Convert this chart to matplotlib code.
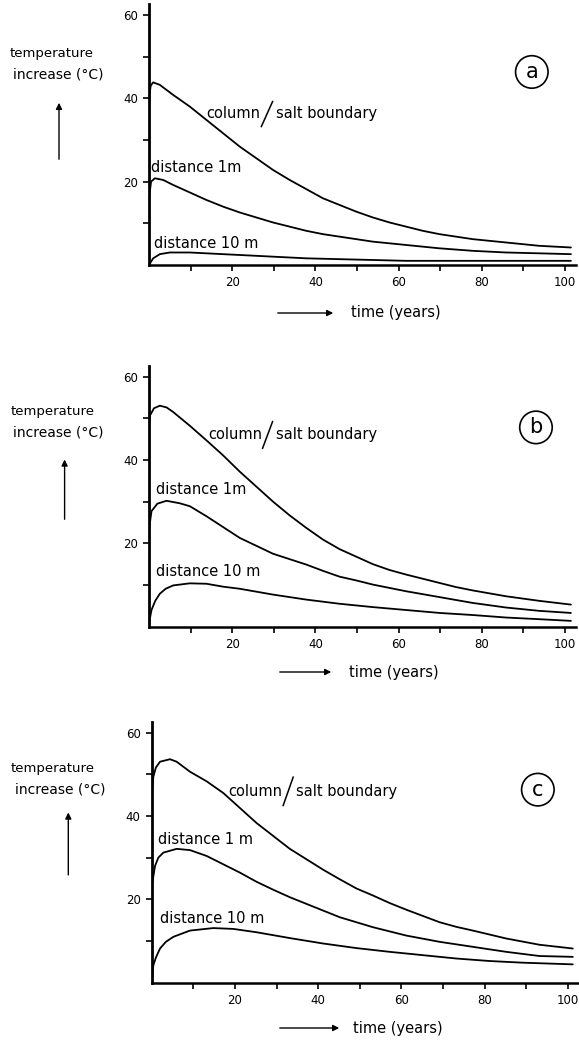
import matplotlib
matplotlib.use("Agg")
import matplotlib.pyplot as plt

# temperature increase (deg C) against time (years), three cases a/b/c
# each case: column/salt boundary, 1 m and 10 m distance

t_a_bnd = [0, 0.1, 0.4, 1.0, 2.6, 5.8, 9.8, 13.8, 17.8, 21.8, 25.8, 29.8, 33.8, 37.8, 41.8, 45.8, 49.8, 53.8, 57.8, 61.8, 65.8, 69.8, 73.8, 77.8, 85.8, 93.8, 101.4]
T_a_bnd = [0, 40.5, 43.0, 43.8, 43.2, 40.8, 38.0, 34.8, 31.6, 28.4, 25.6, 22.8, 20.4, 18.2, 16.0, 14.4, 12.8, 11.4, 10.2, 9.2, 8.2, 7.4, 6.8, 6.2, 5.4, 4.6, 4.2]
t_a_1m = [0, 0.05, 0.5, 1.4, 3.4, 5.8, 9.8, 13.8, 17.8, 21.8, 25.8, 29.8, 33.8, 37.8, 41.8, 45.8, 49.8, 53.8, 61.8, 69.8, 77.8, 85.8, 93.8, 101.4]
T_a_1m = [0, 16.4, 20.0, 20.8, 20.4, 19.2, 17.4, 15.6, 14.0, 12.6, 11.4, 10.2, 9.2, 8.2, 7.4, 6.8, 6.2, 5.6, 4.8, 4.0, 3.4, 3.0, 2.8, 2.6]
t_a_10m = [0, 1.0, 2.6, 5.0, 9.8, 17.8, 29.8, 37.8, 45.8, 61.8, 77.8, 101.4]
T_a_10m = [0, 1.6, 2.6, 3.0, 3.0, 2.6, 2.0, 1.6, 1.4, 1.0, 1.0, 1.0]

t_b_bnd = [0, 0.05, 0.2, 1.2, 2.6, 4.2, 5.8, 9.8, 13.8, 17.8, 21.8, 25.8, 29.8, 33.8, 37.8, 41.8, 45.8, 49.8, 53.8, 57.8, 61.8, 65.8, 69.8, 73.8, 77.8, 85.8, 93.8, 101.4]
T_b_bnd = [0, 48.2, 50.6, 52.4, 53.0, 52.6, 51.5, 48.2, 44.7, 41.1, 37.2, 33.6, 30.0, 26.7, 23.7, 20.9, 18.6, 16.8, 15.0, 13.6, 12.5, 11.5, 10.5, 9.5, 8.7, 7.3, 6.2, 5.3]
t_b_1m = [0, 0.05, 0.6, 2.0, 4.2, 7.4, 9.8, 13.8, 17.8, 21.8, 25.8, 29.8, 33.8, 37.8, 41.8, 45.8, 49.8, 53.8, 61.8, 69.8, 77.8, 85.8, 93.8, 101.4]
T_b_1m = [0, 23.7, 27.7, 29.5, 30.2, 29.6, 28.9, 26.5, 23.9, 21.3, 19.4, 17.5, 16.2, 14.9, 13.4, 12.0, 11.1, 10.1, 8.5, 7.1, 5.7, 4.6, 3.8, 3.3]
t_b_10m = [0, 0.6, 1.5, 2.6, 4.0, 5.8, 9.8, 13.8, 17.8, 21.8, 29.8, 37.8, 45.8, 53.8, 61.8, 69.8, 77.8, 85.8, 93.8, 101.4]
T_b_10m = [0.8, 4.0, 6.2, 7.9, 9.1, 9.9, 10.4, 10.3, 9.6, 9.1, 7.7, 6.5, 5.5, 4.7, 4.0, 3.3, 2.8, 2.2, 1.8, 1.4]

t_c_bnd = [0, 0.05, 0.4, 1.0, 2.0, 4.4, 6.0, 9.2, 13.2, 17.2, 21.2, 25.2, 29.2, 33.2, 37.2, 41.2, 45.2, 49.2, 53.2, 57.2, 61.2, 65.2, 69.2, 73.2, 77.2, 85.2, 93.2, 101.2]
T_c_bnd = [0, 45.5, 49.4, 51.6, 53.0, 53.6, 53.0, 50.6, 48.3, 45.5, 41.9, 38.3, 35.2, 32.1, 29.6, 27.1, 24.8, 22.6, 20.9, 19.1, 17.5, 16.0, 14.5, 13.4, 12.5, 10.6, 9.1, 8.2]
t_c_1m = [0, 0.05, 0.8, 1.6, 2.8, 6.0, 9.2, 13.2, 17.2, 21.2, 25.2, 29.2, 33.2, 37.2, 41.2, 45.2, 49.2, 53.2, 61.2, 69.2, 77.2, 85.2, 93.2, 101.2]
T_c_1m = [0, 23.3, 28.0, 30.0, 31.2, 32.1, 31.8, 30.4, 28.4, 26.4, 24.2, 22.3, 20.5, 18.9, 17.3, 15.7, 14.5, 13.3, 11.3, 9.8, 8.6, 7.4, 6.4, 6.2]
t_c_10m = [0, 0.4, 1.0, 2.0, 3.4, 5.2, 9.2, 14.8, 19.6, 25.2, 33.2, 41.2, 49.2, 57.2, 65.2, 73.2, 81.2, 89.2, 101.2]
T_c_10m = [0.2, 4.2, 6.0, 8.2, 9.8, 11.0, 12.5, 13.1, 12.9, 12.1, 10.7, 9.4, 8.3, 7.4, 6.6, 5.8, 5.2, 4.8, 4.4]

panel_names = ["a", "b", "c"]
x_ticks = [10, 20, 30, 40, 50, 60, 70, 80, 90, 100]
x_ticklabels = ["", "20", "", "40", "", "60", "", "80", "", "100"]
y_ticks = [10, 20, 30, 40, 50, 60]
y_ticklabels = ["", "20", "", "40", "", "60"]

plt.rcParams["font.family"] = "DejaVu Sans"

W, H = 579, 1040
fig = plt.figure(figsize=(W / 100, H / 100), dpi=100)

# axes origin in pixels (x, y from top)
origins = [(149, 265), (149, 626.7), (151.7, 982.7)]
ax_w, ax_h = 426.5, 260.6

curves = [
    [(t_a_bnd, T_a_bnd), (t_a_1m, T_a_1m), (t_a_10m, T_a_10m)],
    [(t_b_bnd, T_b_bnd), (t_b_1m, T_b_1m), (t_b_10m, T_b_10m)],
    [(t_c_bnd, T_c_bnd), (t_c_1m, T_c_1m), (t_c_10m, T_c_10m)],
]

# label placement per panel (data coords)
col_pos = [(13.8, 36.4), (14.2, 46.2), (18.4, 45.9)]
slash = [((27.0, 33.2), (29.7, 39.2)), ((27.3, 42.8), (29.7, 49.2)), ((31.6, 42.5), (34.0, 49.3))]
salt_x = [30.6, 30.6, 34.6]
d1_pos = [(0.6, 23.4), (1.7, 32.8), (1.6, 34.4)]
d1_txt = ["distance 1m", "distance 1m", "distance 1 m"]
d10_pos = [(1.2, 5.2), (1.8, 13.2), (2.0, 15.5)]
circ_pos = [(92.0, 46.3), (93.0, 47.8), (92.8, 46.3)]

# outside-axes annotations, in axes pixels
ylab_x = [(-139.8, -136), (-138, -136), (-140.7, -136.7)]
ylab_y = [(212, 191), (215.7, 194.7), (214, 193)]
varrow = [(-90, 103, 165), (-84.4, 104.7, 170), (-83.4, 105, 173)]
harrow = [(126, 187, -48, 202), (128, 185, -45.3, 200), (125.3, 190.3, -45.3, 201.3)]

for i, name in enumerate(panel_names):
    x0, y0 = origins[i]
    ax = fig.add_axes([x0 / W, (H - y0) / H, ax_w / W, ax_h / H])
    for t, T in curves[i]:
        ax.plot(t, T, color="black", lw=1.3, solid_capstyle="round", solid_joinstyle="round")
    ax.set_xlim(0, 102.5)
    ax.set_ylim(0, 62.5)
    for s in ["top", "right"]:
        ax.spines[s].set_visible(False)
    ax.spines["left"].set_linewidth(2.0)
    ax.spines["bottom"].set_linewidth(1.8)
    ax.set_xticks(x_ticks)
    ax.set_xticklabels(x_ticklabels)
    ax.set_yticks(y_ticks)
    ax.set_yticklabels(y_ticklabels)
    ax.tick_params(direction="out", length=4, width=1.2, labelsize=8.5, pad=4)

    ax.text(col_pos[i][0], col_pos[i][1], "column", fontsize=10.5, va="center", ha="left")
    (sx0, sy0), (sx1, sy1) = slash[i]
    ax.plot([sx0, sx1], [sy0, sy1], color="black", lw=1.1)
    ax.text(salt_x[i], col_pos[i][1], "salt boundary", fontsize=10.5, va="center", ha="left")
    ax.text(d1_pos[i][0], d1_pos[i][1], d1_txt[i], fontsize=10.5, va="center", ha="left")
    ax.text(d10_pos[i][0], d10_pos[i][1], "distance 10 m", fontsize=10.5, va="center", ha="left")
    ax.text(circ_pos[i][0], circ_pos[i][1], name, fontsize=15, ha="center", va="center",
            bbox=dict(boxstyle="circle,pad=0.3", fc="none", ec="black", lw=1.2))

    ax.annotate("temperature", xy=(ylab_x[i][0], ylab_y[i][0]), xycoords="axes pixels",
                fontsize=9.5, va="center", ha="left", annotation_clip=False)
    ax.annotate("increase (°C)", xy=(ylab_x[i][1], ylab_y[i][1]), xycoords="axes pixels",
                fontsize=10, va="center", ha="left", annotation_clip=False)
    vx, vy0, vy1 = varrow[i]
    ax.annotate("", xy=(vx, vy1), xytext=(vx, vy0), xycoords="axes pixels",
                arrowprops=dict(arrowstyle="-|>", color="black", lw=1.0, mutation_scale=9),
                annotation_clip=False)
    hx0, hx1, hy, tx = harrow[i]
    ax.annotate("", xy=(hx1, hy), xytext=(hx0, hy), xycoords="axes pixels",
                arrowprops=dict(arrowstyle="-|>", color="black", lw=1.0, mutation_scale=9),
                annotation_clip=False)
    ax.annotate("time (years)", xy=(tx, hy), xycoords="axes pixels",
                fontsize=10.5, va="center", ha="left", annotation_clip=False)

fig.savefig("out.png", dpi=100)
